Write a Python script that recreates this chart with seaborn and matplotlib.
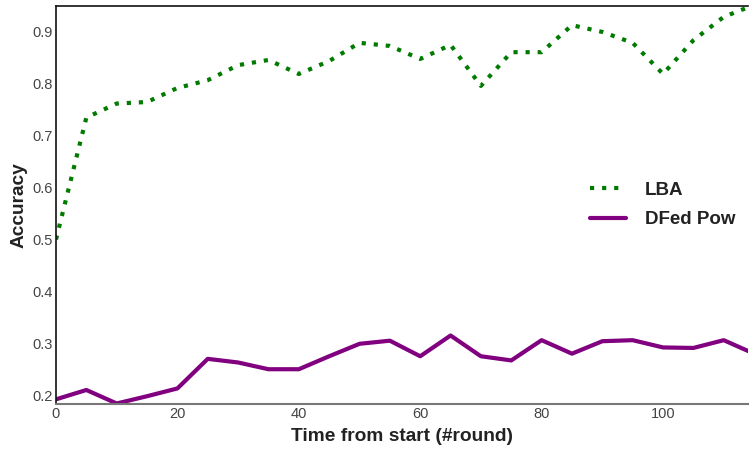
import matplotlib
matplotlib.use("Agg")
import matplotlib.pyplot as plt
import seaborn as sns
import pandas as pd

rounds = [0, 5, 10, 15, 20, 25, 30, 35, 40, 45, 50, 55, 60, 65, 70, 75, 80, 85, 90, 95, 100, 105, 110, 115]
lba = [0.500, 0.735, 0.762, 0.765, 0.792, 0.807, 0.836, 0.846, 0.819, 0.844, 0.879, 0.873, 0.848, 0.875,
       0.796, 0.861, 0.861, 0.913, 0.900, 0.879, 0.819, 0.884, 0.929, 0.952]
dfed = [0.192, 0.210, 0.184, 0.198, 0.213, 0.270, 0.263, 0.250, 0.250, 0.275, 0.299, 0.305, 0.275, 0.315,
        0.275, 0.267, 0.306, 0.280, 0.304, 0.306, 0.292, 0.291, 0.306, 0.280]
series_names = ["LBA", "DFed Pow"]
xticks = [0, 20, 40, 60, 80, 100]
yticks = [0.2, 0.3, 0.4, 0.5, 0.6, 0.7, 0.8, 0.9]

df = pd.DataFrame({
    "round": rounds * 2,
    "acc": lba + dfed,
    "method": [series_names[0]] * len(rounds) + [series_names[1]] * len(rounds),
})

sns.set_theme(style="white")
plt.rcParams["font.family"] = ["Liberation Sans", "DejaVu Sans"]

fig = plt.figure(figsize=(7.49, 4.54), dpi=100)
ax = fig.add_axes([56 / 749, 1 - 404 / 454, 692 / 749, 398 / 454])

sns.lineplot(data=df, x="round", y="acc", hue="method", style="method",
             palette={"LBA": "#007b00", "DFed Pow": "#800080"},
             dashes={"LBA": (1, 1.9), "DFed Pow": ""},
             linewidth=3, ax=ax, legend=True)

ax.set_xlim(0, 114)
ax.set_ylim(0.183, 0.95)
ax.set_xticks(xticks)
ax.set_yticks(yticks)
ax.set_yticklabels([f"{v:.1f}" for v in yticks])
ax.tick_params(axis="both", length=0, labelsize=10.5, labelcolor="#444444", pad=2)
ax.set_xlabel("Time from start (#round)", fontsize=13.8, fontweight="bold", color="#222222", labelpad=5)
ax.set_ylabel("Accuracy", fontsize=13.8, fontweight="bold", color="#222222", labelpad=4)

for side in ["left", "top"]:
    ax.spines[side].set_color("#111111")
    ax.spines[side].set_linewidth(1.2)
ax.spines["bottom"].set_color("#777777")
ax.spines["bottom"].set_linewidth(1.5)
ax.spines["right"].set_visible(False)

leg = ax.legend(loc="center left", bbox_to_anchor=(0.748, 0.50), frameon=False,
                prop={"weight": "bold", "size": 13.5}, handlelength=1.9,
                handletextpad=1.0, labelspacing=0.65)
for t in leg.get_texts():
    t.set_color("#222222")

fig.savefig("out.png", dpi=100)
